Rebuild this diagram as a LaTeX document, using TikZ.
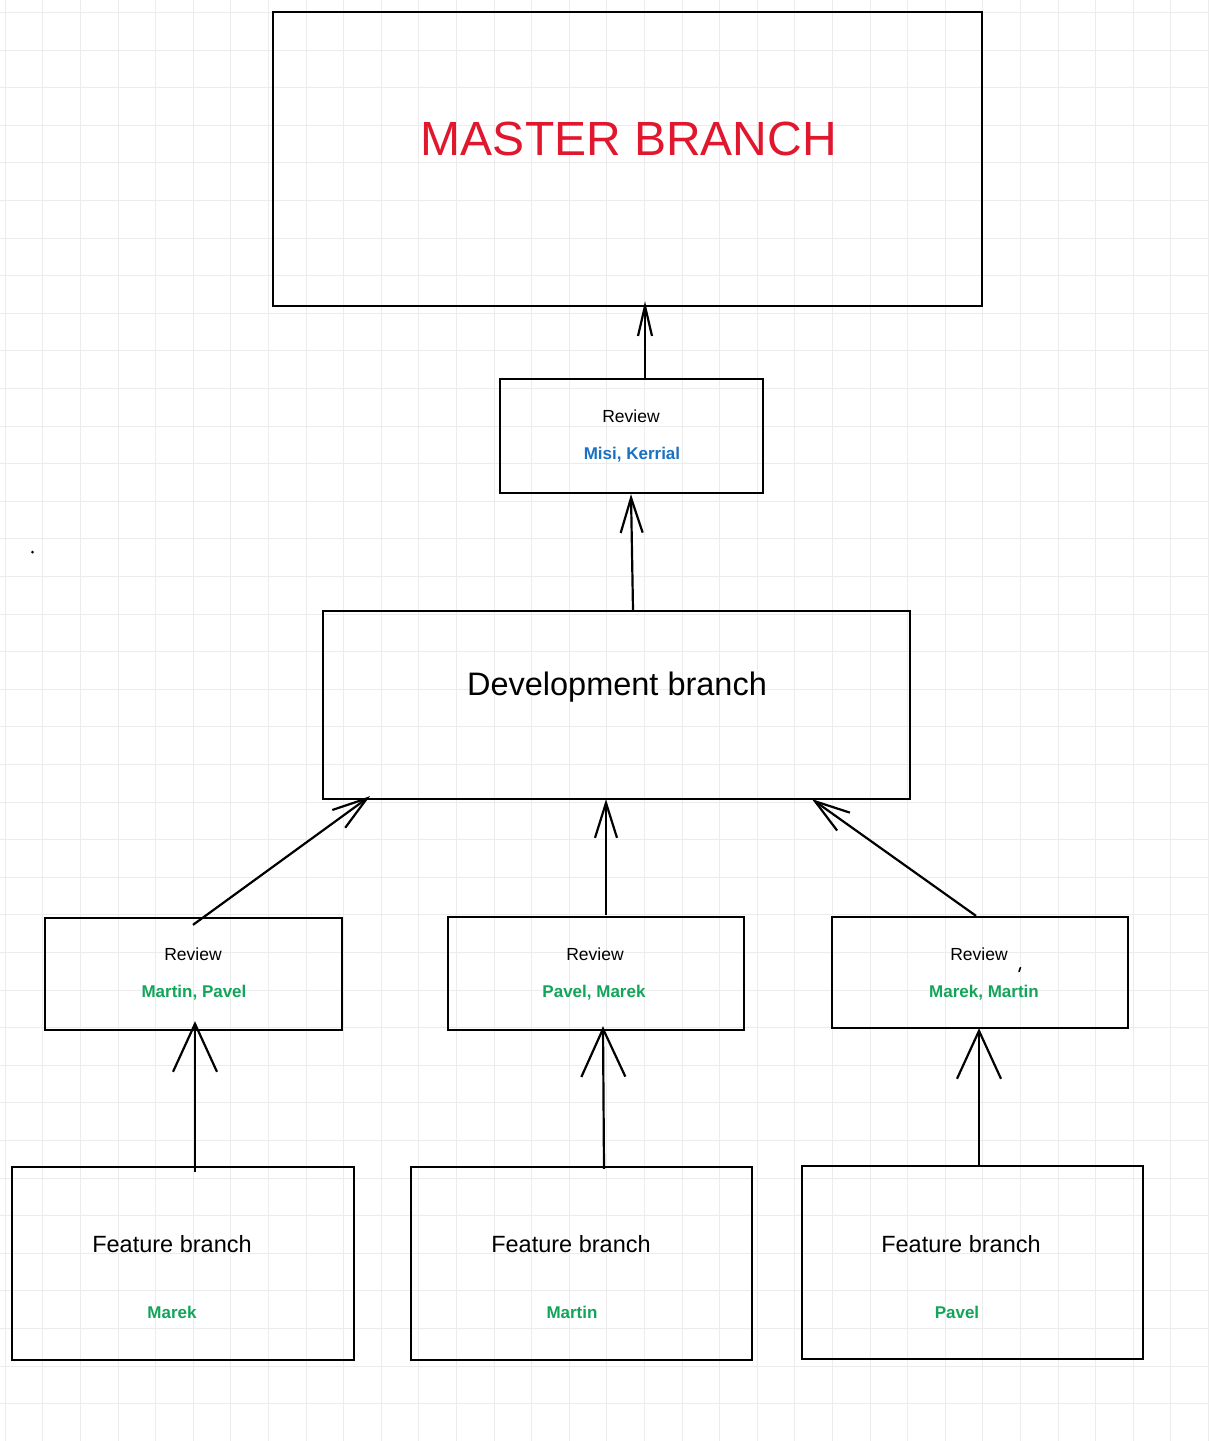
\documentclass[tikz,border=0pt]{standalone}
\usepackage{fontspec}
\setmainfont{Liberation Sans}
\usetikzlibrary{arrows.meta}
\definecolor{mred}{RGB}{224,23,45}
\definecolor{mblue}{RGB}{25,113,194}
\definecolor{mgreen}{RGB}{18,165,90}
\definecolor{gridc}{RGB}{236,236,236}
\tikzset{
  box/.style={draw=black, line width=2.3pt, inner sep=0pt},
  lbl/.style={inner sep=0pt, text=black},
  rev/.style={lbl, font=\fontsize{17.5}{20}\selectfont},
  who/.style={lbl, font=\bfseries\fontsize{17}{20}\selectfont},
  feat/.style={lbl, font=\fontsize{23.5}{28}\selectfont},
  arrS/.style={line width=2.2pt, -{Straight Barb[length=30pt,width=14pt,line width=2.2pt]}},
  arrM/.style={line width=2.2pt, -{Straight Barb[length=35pt,width=22pt,line width=2.2pt]}},
  arrL/.style={line width=2.2pt, -{Straight Barb[length=48pt,width=44pt,line width=2.2pt]}},
}
\begin{document}
\begin{tikzpicture}[x=1pt,y=-1pt]
\useasboundingbox (0,0) rectangle (1209,1441);
\fill[white] (0,0) rectangle (1209,1441);
% grid
\foreach \k in {0,...,32} {\draw[gridc, line width=1pt] (5.3+37.6*\k,0) -- (5.3+37.6*\k,1441);}
\foreach \k in {0,...,38} {\draw[gridc, line width=1pt] (0,12.5+37.6*\k) -- (1209,12.5+37.6*\k);}

% master
\node[box, minimum width=709pt, minimum height=294pt] (master) at (627.5,159) {};
\node[lbl, text=mred, font=\fontsize{48}{54}\selectfont] (mtxt) at (629,139) {MASTER BRANCH};

% top review
\node[box, minimum width=263pt, minimum height=114pt] (rev0) at (631.5,436) {};
\node[rev] (rev0t) at (631,416) {Review};
\node[who, text=mblue] (rev0n) at (632,455) {Misi, Kerrial};

% development
\node[box, minimum width=587pt, minimum height=188pt] (dev) at (616.5,705) {};
\node[lbl, font=\fontsize{32.5}{38}\selectfont] (devt) at (617,687) {Development branch};

% reviews
\node[box, minimum width=297pt, minimum height=112pt] (revL) at (193.5,974) {};
\node[rev] (revLt) at (193,954) {Review};
\node[who, text=mgreen] (revLn) at (194,993) {Martin, Pavel};

\node[box, minimum width=296pt, minimum height=113pt] (revM) at (596,973.5) {};
\node[rev] (revMt) at (595,954) {Review};
\node[who, text=mgreen] (revMn) at (594,993) {Pavel, Marek};

\node[box, minimum width=296pt, minimum height=111pt] (revR) at (980,972.5) {};
\node[rev] (revRt) at (979,954) {Review};
\node[who, text=mgreen] (revRn) at (984,993) {Marek, Martin};

% features
\node[box, minimum width=342pt, minimum height=193pt] (fL) at (183,1263.5) {};
\node[feat] (fLt) at (172,1244) {Feature branch};
\node[who, text=mgreen] (fLn) at (172,1312) {Marek};

\node[box, minimum width=341pt, minimum height=193pt] (fM) at (581.5,1263.5) {};
\node[feat] (fMt) at (571,1244) {Feature branch};
\node[who, text=mgreen] (fMn) at (572,1312) {Martin};

\node[box, minimum width=341pt, minimum height=193pt] (fR) at (972.5,1262.5) {};
\node[feat] (fRt) at (961,1244) {Feature branch};
\node[who, text=mgreen] (fRn) at (957,1312) {Pavel};

% connectors
\draw[arrS] ([xshift=13.5pt]rev0.north) -- ([xshift=17.5pt,yshift=6pt]master.south);
\draw[arrM] ([xshift=16.5pt]dev.north) -- ([xshift=-0.5pt]rev0.south);
\draw[arrM] ([xshift=-0.5pt,yshift=-8pt]revL.north) -- ([xshift=-246.5pt,yshift=4pt]dev.south);
\draw[arrM] ([xshift=10pt,yshift=1pt]revM.north) -- ([xshift=-10.5pt,yshift=1pt]dev.south);
\draw[arrM] ([xshift=-4pt]revR.north) -- ([xshift=195.5pt,yshift=1pt]dev.south);
\draw[arrL] ([xshift=12pt,yshift=-6pt]fL.north) -- ([xshift=1.5pt,yshift=10pt]revL.south);
\draw[arrL] ([xshift=22.5pt,yshift=-3pt]fM.north) -- ([xshift=7pt,yshift=5pt]revM.south);
\draw[arrL] ([xshift=6.5pt]fR.north) -- ([xshift=-1pt,yshift=1pt]revR.south);

% stray marks
\fill[black] (32.5,552) circle (1.5pt);
\draw[black, line width=1.6pt, line cap=round] (1020.5,967.5) -- (1019,971.5);
\end{tikzpicture}
\end{document}
